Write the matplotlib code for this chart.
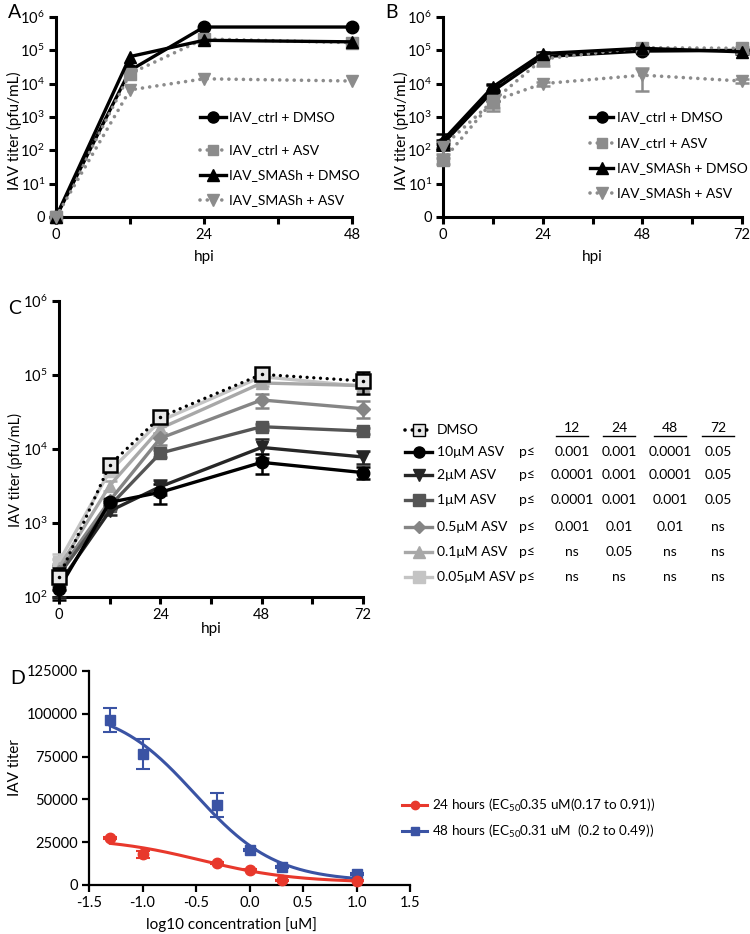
import numpy as np
import matplotlib.pyplot as plt
from matplotlib.lines import Line2D
from matplotlib.ticker import FixedLocator, FixedFormatter, NullFormatter

plt.rcParams['font.family'] = ['Lato', 'DejaVu Sans']
plt.rcParams['mathtext.fontset'] = 'custom'
plt.rcParams['mathtext.rm'] = 'Lato'
plt.rcParams['mathtext.it'] = 'Lato'
plt.rcParams['font.size'] = 10

# ---- panel A: titers, 0-48 hpi (0 = below detection, drawn on the floor)
hpi_a = [0, 12, 24, 48]
a_ctrl_dmso = [0, 2.5e4, 5.0e5, 5.0e5]
a_ctrl_asv = [0, 2.0e4, 2.2e5, 1.7e5]
a_smash_dmso = [0, 6.5e4, 2.0e5, 1.8e5]
a_smash_asv = [0, 6.5e3, 1.4e4, 1.2e4]

# ---- panel B: titers, 0-72 hpi
hpi_b = [0, 12, 24, 48, 72]
b_ctrl_dmso = [160, 6.0e3, 6.5e4, 9.5e4, 1.0e5]
b_ctrl_asv = [50, 3.0e3, 5.5e4, 1.2e5, 1.15e5]
b_smash_dmso = [200, 8.0e3, 8.0e4, 1.15e5, 9.0e4]
b_smash_asv = [130, 3.0e3, 1.0e4, 1.8e4, 1.2e4]
b_ctrl_dmso_sd = [40, 3000, 8000, 5000, 10000]
b_ctrl_asv_sd = [10, 1500, 20000, 10000, 15000]
b_smash_dmso_sd = [100, 2000, 10000, 8000, 10000]
b_smash_asv_sd = [50, 1200, 1500, 12000, 1500]

# ---- panel C: ASV dose series
hpi_c = [0, 12, 24, 48, 72]
c_labels = ['DMSO', '10\u03bcM ASV', '2\u03bcM ASV', '1\u03bcM ASV',
            '0.5\u03bcM ASV', '0.1\u03bcM ASV', '0.05\u03bcM ASV']
c_dmso = [185, 6100, 27000, 102000, 83000]
c_10 = [130, 1900, 2600, 6600, 4800]
c_2 = [150, 1450, 3100, 10500, 7800]
c_1 = [200, 1700, 8800, 20000, 17500]
c_05 = [220, 2000, 14000, 46000, 35000]
c_01 = [250, 3200, 19000, 78000, 72000]
c_005 = [300, 5000, 24000, 95000, 70000]
c_dmso_sd = [60, 600, 3000, 8000, 28000]
c_10_sd = [40, 200, 800, 2000, 900]
c_2_sd = [50, 150, 700, 3000, 1500]
c_1_sd = [60, 150, 1000, 2000, 1500]
c_05_sd = [60, 200, 2500, 10000, 9000]
c_01_sd = [80, 500, 3000, 8000, 5000]
c_005_sd = [80, 600, 2000, 8000, 6000]
p_headers = ['12', '24', '48', '72']
p_table = [['0.001', '0.001', '0.0001', '0.05'],
           ['0.0001', '0.001', '0.0001', '0.05'],
           ['0.0001', '0.001', '0.001', '0.05'],
           ['0.001', '0.01', '0.01', 'ns'],
           ['ns', '0.05', 'ns', 'ns'],
           ['ns', 'ns', 'ns', 'ns']]

# ---- panel D: dose response
log_conc = [-1.3, -1.0, -0.3, 0.0, 0.3, 1.0]
titer_24h = [27500, 18000, 12800, 9000, 2800, 2500]
sd_24h = [500, 2000, 800, 500, 300, 300]
titer_48h = [96500, 76500, 46500, 20500, 10500, 6500]
sd_48h = [7000, 9000, 7000, 600, 600, 500]
# fitted 4PL curves (EC50 from legend, other parameters)
ec50_24h, top_24h, bottom_24h, hill_24h = 0.35, 27560, 1500, 1.0
ec50_48h, top_48h, bottom_48h, hill_48h = 0.31, 104200, 2000, 1.15

W, H = 750, 934
fig = plt.figure(figsize=(W / 100, H / 100), dpi=100)

GRAY = '#8c8c8c'
DOT = (0, (0.01, 2.0))
FS = 10


def ax_at(l, t, r, b):
    return fig.add_axes([l / W, 1 - b / H, (r - l) / W, (b - t) / H])


def ftext(x, y, s, **kw):
    kw.setdefault('va', 'center')
    fig.text(x / W, 1 - y / H, s, **kw)


def fline(x0, x1, y, **kw):
    fig.add_artist(Line2D([x0 / W, x1 / W], [1 - y / H, 1 - y / H],
                          transform=fig.transFigure, **kw))


def fmark(x, y, **kw):
    fig.add_artist(Line2D([x / W], [1 - y / H], transform=fig.transFigure,
                          linestyle='none', **kw))


def floor(v, lo=1):
    return np.where(np.asarray(v, float) <= 0, lo, v)


def style_time_axis(ax, xmax, ymin):
    for s in ['top', 'right']:
        ax.spines[s].set_visible(False)
    for s in ['left', 'bottom']:
        ax.spines[s].set_linewidth(2.2)
    ax.set_yscale('log')
    ax.set_xlim(0, xmax)
    ax.set_ylim(ymin, 1e6)
    ax.set_xticks(list(range(0, xmax + 1, 24)))
    ax.xaxis.set_minor_locator(FixedLocator(list(range(12, xmax, 24))))
    ax.xaxis.set_minor_formatter(NullFormatter())
    ax.yaxis.set_minor_locator(FixedLocator([]))
    ax.tick_params(which='both', direction='out', width=2.2, length=5,
                   labelsize=FS + 0.5, pad=3)


def titer_yticks(ax):
    ax.yaxis.set_major_locator(FixedLocator([1, 1e1, 1e2, 1e3, 1e4, 1e5, 1e6]))
    ax.yaxis.set_major_formatter(FixedFormatter(
        ['0'] + [r'$\mathregular{10^{%d}}$' % k for k in range(1, 7)]))


def legend_row(x0, x1, y, text, color, ls, marker, ms, tx, mfc=None):
    fline(x0, x1, y, color=color, lw=2.4 if ls == '-' else 2.6,
          linestyle=ls, dash_capstyle='round')
    fmark((x0 + x1) / 2, y, marker=marker, color=color, markersize=ms,
          markerfacecolor=mfc or color, markeredgecolor=color)
    ftext(tx, y, text, fontsize=FS)


# ================= A =================
axA = ax_at(56, 17, 352, 217)
style_time_axis(axA, 48, 1)
titer_yticks(axA)
series_a = [(a_ctrl_dmso, 'black', '-', 'o', 9),
            (a_ctrl_asv, GRAY, DOT, 's', 8),
            (a_smash_dmso, 'black', '-', '^', 9),
            (a_smash_asv, GRAY, DOT, 'v', 9)]
for vals, col, ls, mk, ms in series_a:
    axA.plot(hpi_a, floor(vals), color=col, linestyle=ls, lw=2.4 if ls == '-' else 2.6,
             dash_capstyle='round', marker=mk, markersize=ms, clip_on=False, zorder=3)
axA.set_xlabel('hpi', fontsize=FS + 1, labelpad=6)
axA.set_ylabel('IAV titer (pfu/mL)', fontsize=FS + 1)
axA.yaxis.set_label_coords(-0.115, 0.43)
for (vals, col, ls, mk, ms), lab, y in zip(series_a,
                                           ['IAV_ctrl + DMSO', 'IAV_ctrl + ASV',
                                            'IAV_SMASh + DMSO', 'IAV_SMASh + ASV'],
                                           [117, 150, 175, 200]):
    legend_row(200, 226, y, lab, col, ls, mk, ms - 1, 229)
ftext(8, 12, 'A', fontsize=14)

# ================= B =================
axB = ax_at(443, 17, 742, 217)
style_time_axis(axB, 72, 1)
titer_yticks(axB)
series_b = [(b_ctrl_dmso, b_ctrl_dmso_sd, 'black', '-', 'o', 9),
            (b_ctrl_asv, b_ctrl_asv_sd, GRAY, DOT, 's', 8),
            (b_smash_dmso, b_smash_dmso_sd, 'black', '-', '^', 9),
            (b_smash_asv, b_smash_asv_sd, GRAY, DOT, 'v', 9)]
for vals, sd, col, ls, mk, ms in series_b:
    axB.errorbar(hpi_b, vals, yerr=sd, color=col, linestyle=ls,
                 lw=2.4 if ls == '-' else 2.6, dash_capstyle='round',
                 marker=mk, markersize=ms, capsize=5, elinewidth=1.8,
                 capthick=1.8, clip_on=False, zorder=3)
axB.set_xlabel('hpi', fontsize=FS + 1, labelpad=6)
axB.set_ylabel('IAV titer (pfu/mL)', fontsize=FS + 1)
axB.yaxis.set_label_coords(-0.115, 0.43)
for (vals, sd, col, ls, mk, ms), lab, y in zip(series_b,
                                               ['IAV_ctrl + DMSO', 'IAV_ctrl + ASV',
                                                'IAV_SMASh + DMSO', 'IAV_SMASh + ASV'],
                                               [117, 143, 168, 193]):
    legend_row(590, 613, y, lab, col, ls, mk, ms - 1, 617)
ftext(385, 12, 'B', fontsize=14)

# ================= C =================
axC = ax_at(59, 301, 363, 597)
style_time_axis(axC, 72, 100)
axC.yaxis.set_major_locator(FixedLocator([1e2, 1e3, 1e4, 1e5, 1e6]))
axC.yaxis.set_major_formatter(FixedFormatter(
    [r'$\mathregular{10^{%d}}$' % k for k in range(2, 7)]))
c_series = [(c_005, c_005_sd, '#c4c4c4', 's', 8),
            (c_01, c_01_sd, '#a8a8a8', '^', 9),
            (c_05, c_05_sd, '#858585', 'D', 7),
            (c_1, c_1_sd, '#555555', 's', 8),
            (c_2, c_2_sd, '#262626', 'v', 9),
            (c_10, c_10_sd, '#000000', 'o', 9)]
for vals, sd, col, mk, ms in c_series:
    axC.errorbar(hpi_c, vals, yerr=sd, color=col, lw=2.4, marker=mk,
                 markersize=ms, capsize=5, elinewidth=1.8, capthick=1.8,
                 clip_on=False, zorder=3)
axC.errorbar(hpi_c, c_dmso, yerr=c_dmso_sd, color='black', linestyle=DOT, lw=2.4,
             dash_capstyle='round', marker='s', markersize=10,
             markerfacecolor='#e8e8e8', markeredgecolor='black', markeredgewidth=1.8,
             capsize=5, elinewidth=1.8, capthick=1.8, clip_on=False, zorder=4)
axC.plot(hpi_c, c_dmso, linestyle='none', marker='.', color='black',
         markersize=3, clip_on=False, zorder=5)
axC.set_xlabel('hpi', fontsize=FS + 1, labelpad=0)
axC.set_ylabel('IAV titer (pfu/mL)', fontsize=FS + 0.5)
axC.yaxis.set_label_coords(-0.12, 0.43)
ftext(8, 308, 'C', fontsize=14)

# legend/table for C
rows_y = [430, 452, 475, 500, 527, 552, 577]
legend_row(405, 432, rows_y[0], c_labels[0], 'black', DOT, 's', 9, 437, mfc='#e8e8e8')
fmark(418.5, rows_y[0], marker='.', color='black', markersize=3)
leg_styles = [('#000000', 'o', 8), ('#262626', 'v', 8), ('#555555', 's', 8),
              ('#858585', 'D', 6), ('#a8a8a8', '^', 8), ('#c4c4c4', 's', 8)]
col_x = [572, 619, 670, 718]
for (col, mk, ms), lab, y, pvals in zip(leg_styles, c_labels[1:], rows_y[1:], p_table):
    legend_row(405, 432, y, lab, col, '-', mk, ms, 437)
    ftext(527, y, 'p\u2264', fontsize=FS, ha='center')
    for x, p in zip(col_x, pvals):
        ftext(x, y, p, fontsize=FS, ha='center')
for x, hdr in zip(col_x, p_headers):
    ftext(x, rows_y[0] - 2, hdr, fontsize=FS, ha='center')
    fline(x - 16, x + 16, rows_y[0] + 6, color='black', lw=1.0)

# ================= D =================
axD = ax_at(89, 671, 410, 885)
for s in ['top', 'right']:
    axD.spines[s].set_visible(False)
for s in ['left', 'bottom']:
    axD.spines[s].set_linewidth(1.6)
axD.set_xlim(-1.5, 1.5)
axD.set_ylim(0, 125000)
axD.set_xticks(np.arange(-1.5, 1.51, 0.5))
axD.set_xticklabels(['-1.5', '-1.0', '-0.5', '0.0', '0.5', '1.0', '1.5'])
axD.set_yticks(np.arange(0, 125001, 25000))
axD.tick_params(direction='out', width=1.6, length=5, labelsize=FS + 0.5, pad=3)

xs = np.linspace(min(log_conc), max(log_conc), 200)
fit_24h = bottom_24h + (top_24h - bottom_24h) / (1 + 10 ** ((xs - np.log10(ec50_24h)) * hill_24h))
fit_48h = bottom_48h + (top_48h - bottom_48h) / (1 + 10 ** ((xs - np.log10(ec50_48h)) * hill_48h))
RED, BLUE = '#e8382c', '#3a53a4'
axD.plot(xs, fit_48h, color=BLUE, lw=2.2)
axD.plot(xs, fit_24h, color=RED, lw=2.2)
axD.errorbar(log_conc, titer_48h, yerr=sd_48h, color=BLUE, linestyle='none',
             marker='s', markersize=7, capsize=5, elinewidth=1.5, capthick=1.5,
             clip_on=False, zorder=3)
axD.errorbar(log_conc, titer_24h, yerr=sd_24h, color=RED, linestyle='none',
             marker='o', markersize=7.5, capsize=5, elinewidth=1.5, capthick=1.5,
             clip_on=False, zorder=3)
axD.set_xlabel('log10 concentration [uM]', fontsize=FS + 1)
axD.xaxis.set_label_coords(0.445, -0.15)
axD.set_ylabel('IAV titer', fontsize=FS + 1)
axD.yaxis.set_label_coords(-0.21, 0.547)
ftext(10, 678, 'D', fontsize=14)

fline(402, 427, 805, color=RED, lw=2.2)
fmark(414.5, 805, marker='o', color=RED, markersize=6)
ftext(432, 805, r'24 hours (EC$_{\mathregular{50}}$0.35 uM(0.17 to 0.91))', fontsize=FS - 0.3)
fline(402, 427, 831, color=BLUE, lw=2.2)
fmark(414.5, 831, marker='s', color=BLUE, markersize=6)
ftext(432, 831, r'48 hours (EC$_{\mathregular{50}}$0.31 uM  (0.2 to 0.49))', fontsize=FS - 0.3)

fig.savefig('out.png', dpi=100)
